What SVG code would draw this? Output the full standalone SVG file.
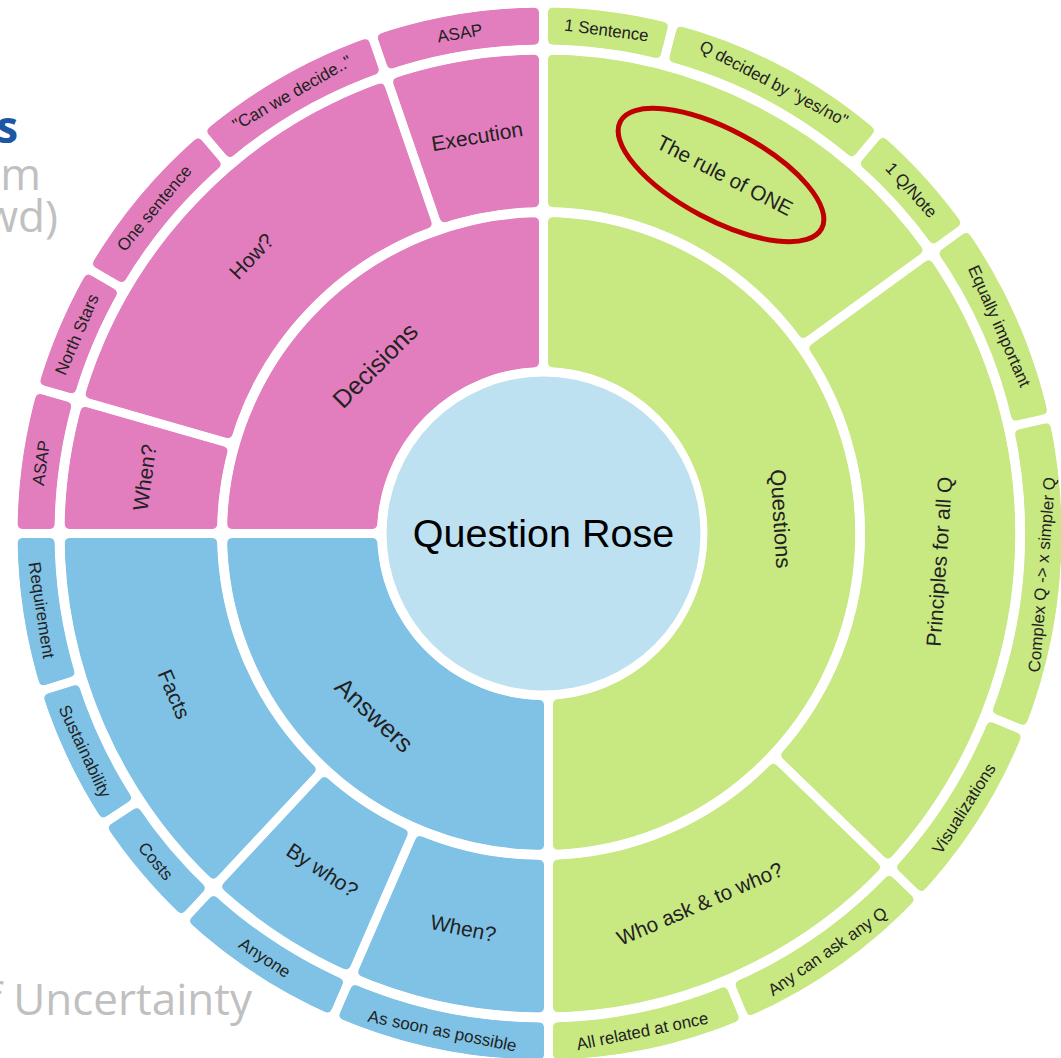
<svg xmlns="http://www.w3.org/2000/svg" width="1061" height="1058" viewBox="0 0 1061 1058">
<style>
.s1{fill:none;stroke-width:150px}
.s2{fill:none;stroke-width:152.5px}
.s3{fill:none;stroke-width:37px}
.pk{stroke:#E27EBE}
.gr{stroke:#C8E882}
.bl{stroke:#7FC2E6}
.lb{font-family:"Liberation Sans",Arial,Helvetica,sans-serif;fill:#222;text-anchor:middle}
.t0{font-size:39.5px;fill:#000}
.t1{font-size:25px}
.t2{font-size:21px}
.t3{font-size:17px}
.bg{font-family:"Open Sans","Noto Sans",sans-serif;font-size:44px;fill:#C0C0C0;text-anchor:end}
.sep{stroke:#000;stroke-width:9px}
</style>
<defs>
<path id="c1" d="M0,-241.5A241.5,241.5 0 1 1 0,241.5A241.5,241.5 0 1 1 0,-241.5" pathLength="360"/>
<path id="c2" d="M0,-402.75A402.75,402.75 0 1 1 0,402.75A402.75,402.75 0 1 1 0,-402.75" pathLength="360"/>
<path id="c3" d="M0,-507.5A507.5,507.5 0 1 1 0,507.5A507.5,507.5 0 1 1 0,-507.5" pathLength="360"/>
<filter id="rnd" filterUnits="userSpaceOnUse" x="-560" y="-560" width="1120" height="1120" color-interpolation-filters="sRGB">
<feGaussianBlur stdDeviation="2.8"/>
<feComponentTransfer><feFuncA type="linear" slope="8" intercept="-3.5"/></feComponentTransfer>
</filter>
<mask id="mL" maskUnits="userSpaceOnUse" x="-560" y="-560" width="1120" height="1120">
<rect x="-560" y="-560" width="1120" height="1120" fill="#fff"/>
<g class="sep">
<line x1="0" y1="-150" x2="0" y2="-540"/>
<line x1="-150" y1="0" x2="-540" y2="0"/>
<line y1="-320" y2="-540" transform="rotate(286)"/>
<line y1="-320" y2="-540" transform="rotate(341)"/>
<line y1="-320" y2="-540" transform="rotate(203.5)"/>
<line y1="-320" y2="-540" transform="rotate(223)"/>
<line y1="-483" y2="-540" transform="rotate(300.2)"/>
<line y1="-483" y2="-540" transform="rotate(319.5)"/>
<line y1="-483" y2="-540" transform="rotate(236.6)"/>
<line y1="-483" y2="-540" transform="rotate(252.6)"/>
</g>
<rect x="0.5" y="150" width="40" height="400" fill="#000"/>
</mask>
<mask id="mR" maskUnits="userSpaceOnUse" x="-560" y="-560" width="1120" height="1120">
<rect x="-560" y="-560" width="1120" height="1120" fill="#fff"/>
<g class="sep">
<line x1="0" y1="-150" x2="0" y2="-540"/>
<line y1="-320" y2="-540" transform="rotate(54.4)"/>
<line y1="-320" y2="-540" transform="rotate(133.6)"/>
<line y1="-483" y2="-540" transform="rotate(14.5)"/>
<line y1="-483" y2="-540" transform="rotate(40.4)"/>
<line y1="-483" y2="-540" transform="rotate(77.3)"/>
<line y1="-483" y2="-540" transform="rotate(112)"/>
<line y1="-483" y2="-540" transform="rotate(157.2)"/>
</g>
<rect x="-40" y="150" width="49.65" height="400" fill="#000"/>
</mask>
</defs>
<rect width="1061" height="1058" fill="#fff"/>
<g id="slide-fragments">
<text class="bg" x="18" y="143" style="fill:#1E56A6;font-weight:700">s</text>
<text class="bg" x="41" y="190">om</text>
<text class="bg" x="58" y="232">wd)</text>
<text class="bg" x="252" y="1015">f Uncertainty</text>
</g>
<g id="rose" transform="translate(543.5,533.5)">
<g id="node-root"><circle r="157" fill="#BEE1F2"/><text class="lb t0" dy=".35em">Question Rose</text></g>

<g id="node-decisions"><g filter="url(#rnd)"><use href="#c1" class="s1 pk" style="stroke-dasharray:90.4 360;stroke-dashoffset:-269.6" mask="url(#mL)"/></g><text class="lb t1" dy=".35em" transform="rotate(315) translate(0,-238)">Decisions</text></g>
<g id="node-answers"><g filter="url(#rnd)"><use href="#c1" class="s1 bl" style="stroke-dasharray:91.4 360;stroke-dashoffset:-179" mask="url(#mL)"/></g><text class="lb t1" dy=".35em" transform="rotate(223) translate(0,-248) rotate(180)">Answers</text></g>

<g id="node-when-d"><g filter="url(#rnd)"><use href="#c2" class="s2 pk" style="stroke-dasharray:16.4 360;stroke-dashoffset:-269.6" mask="url(#mL)"/></g><text class="lb t2" dy=".35em" transform="rotate(278) translate(0,-402.75)">When?</text></g>
<g id="node-how"><g filter="url(#rnd)"><use href="#c2" class="s2 pk" style="stroke-dasharray:55 360;stroke-dashoffset:-286" mask="url(#mL)"/></g><text class="lb t2" dy=".35em" transform="rotate(313.5) translate(0,-402.75)">How?</text></g>
<g id="node-execution"><g filter="url(#rnd)"><use href="#c2" class="s2 pk" style="stroke-dasharray:19 360;stroke-dashoffset:-341" mask="url(#mL)"/></g><text class="lb t2" dy=".35em" transform="rotate(350.5) translate(0,-402.75)">Execution</text></g>
<g id="node-when-a"><g filter="url(#rnd)"><use href="#c2" class="s2 bl" style="stroke-dasharray:24.5 360;stroke-dashoffset:-179" mask="url(#mL)"/></g><text class="lb t2" dy=".35em" transform="rotate(191.5) translate(0,-402.75) rotate(180)">When?</text></g>
<g id="node-bywho"><g filter="url(#rnd)"><use href="#c2" class="s2 bl" style="stroke-dasharray:19.5 360;stroke-dashoffset:-203.5" mask="url(#mL)"/></g><text class="lb t2" dy=".35em" transform="rotate(213.3) translate(0,-402.75) rotate(180)">By who?</text></g>
<g id="node-facts"><g filter="url(#rnd)"><use href="#c2" class="s2 bl" style="stroke-dasharray:47.4 360;stroke-dashoffset:-223" mask="url(#mL)"/></g><text class="lb t2" dy=".35em" transform="rotate(246.5) translate(0,-402.75) rotate(180)">Facts</text></g>

<g id="node-asap-l"><g filter="url(#rnd)"><use href="#c3" class="s3 pk" style="stroke-dasharray:16.4 360;stroke-dashoffset:-269.6" mask="url(#mL)"/></g><text class="lb t3" dy=".35em" transform="rotate(278) translate(0,-507.5)">ASAP</text></g>
<g id="node-northstars"><g filter="url(#rnd)"><use href="#c3" class="s3 pk" style="stroke-dasharray:14.2 360;stroke-dashoffset:-286" mask="url(#mL)"/></g><text class="lb t3" dy=".35em" transform="rotate(293.1) translate(0,-507.5)">North Stars</text></g>
<g id="node-onesentence"><g filter="url(#rnd)"><use href="#c3" class="s3 pk" style="stroke-dasharray:19.3 360;stroke-dashoffset:-300.2" mask="url(#mL)"/></g><text class="lb t3" dy=".35em" transform="rotate(309.9) translate(0,-507.5)">One sentence</text></g>
<g id="node-canwedecide"><g filter="url(#rnd)"><use href="#c3" class="s3 pk" style="stroke-dasharray:21.5 360;stroke-dashoffset:-319.5" mask="url(#mL)"/></g><text class="lb t3" dy=".35em" transform="rotate(330.3) translate(0,-507.5)">&quot;Can we decide..&quot;</text></g>
<g id="node-asap-t"><g filter="url(#rnd)"><use href="#c3" class="s3 pk" style="stroke-dasharray:19 360;stroke-dashoffset:-341" mask="url(#mL)"/></g><text class="lb t3" dy=".35em" transform="rotate(350.5) translate(0,-507.5)">ASAP</text></g>
<g id="node-asoonaspossible"><g filter="url(#rnd)"><use href="#c3" class="s3 bl" style="stroke-dasharray:24.5 360;stroke-dashoffset:-179" mask="url(#mL)"/></g><text class="lb t3" dy=".35em" transform="rotate(191.5) translate(0,-507.5) rotate(180)">As soon as possible</text></g>
<g id="node-anyone"><g filter="url(#rnd)"><use href="#c3" class="s3 bl" style="stroke-dasharray:19.5 360;stroke-dashoffset:-203.5" mask="url(#mL)"/></g><text class="lb t3" dy=".35em" transform="rotate(213.3) translate(0,-507.5) rotate(180)">Anyone</text></g>
<g id="node-costs"><g filter="url(#rnd)"><use href="#c3" class="s3 bl" style="stroke-dasharray:13.6 360;stroke-dashoffset:-223" mask="url(#mL)"/></g><text class="lb t3" dy=".35em" transform="rotate(229.8) translate(0,-507.5) rotate(180)">Costs</text></g>
<g id="node-sustainability"><g filter="url(#rnd)"><use href="#c3" class="s3 bl" style="stroke-dasharray:16 360;stroke-dashoffset:-236.6" mask="url(#mL)"/></g><text class="lb t3" dy=".35em" transform="rotate(244.6) translate(0,-507.5) rotate(180)">Sustainability</text></g>
<g id="node-requirement"><g filter="url(#rnd)"><use href="#c3" class="s3 bl" style="stroke-dasharray:17.8 360;stroke-dashoffset:-252.6" mask="url(#mL)"/></g><text class="lb t3" dy=".35em" transform="rotate(261.3) translate(0,-507.5) rotate(180)">Requirement</text></g>

<g id="branch-questions" transform="scale(0.985,1)">
<g id="node-questions"><g filter="url(#rnd)"><use href="#c1" class="s1 gr" style="stroke-dasharray:180.5 360;stroke-dashoffset:0" mask="url(#mR)"/></g><text class="lb t1" dy=".35em" style="font-size:22px" transform="rotate(86.5) translate(0,-241.5)">Questions</text></g>
<g id="node-ruleofone"><g filter="url(#rnd)"><use href="#c2" class="s2 gr" style="stroke-dasharray:54.4 360;stroke-dashoffset:0" mask="url(#mR)"/></g><text class="lb t2" dy=".35em" transform="rotate(27.2) translate(0,-402.75)">The rule of ONE</text></g>
<g id="node-principles"><g filter="url(#rnd)"><use href="#c2" class="s2 gr" style="stroke-dasharray:79.2 360;stroke-dashoffset:-54.4" mask="url(#mR)"/></g><text class="lb t2" dy=".35em" transform="rotate(94) translate(0,-402.75) rotate(180)">Principles for all Q</text></g>
<g id="node-whoask"><g filter="url(#rnd)"><use href="#c2" class="s2 gr" style="stroke-dasharray:46.9 360;stroke-dashoffset:-133.6" mask="url(#mR)"/></g><text class="lb t2" dy=".35em" transform="rotate(156.8) translate(0,-402.75) rotate(180)">Who ask &amp; to who?</text></g>
<g id="node-1sentence"><g filter="url(#rnd)"><use href="#c3" class="s3 gr" style="stroke-dasharray:14.5 360;stroke-dashoffset:0" mask="url(#mR)"/></g><text class="lb t3" dy=".35em" transform="rotate(7.25) translate(0,-507.5)">1 Sentence</text></g>
<g id="node-qdecided"><g filter="url(#rnd)"><use href="#c3" class="s3 gr" style="stroke-dasharray:25.9 360;stroke-dashoffset:-14.5" mask="url(#mR)"/></g><text class="lb t3" dy=".35em" transform="rotate(27.45) translate(0,-507.5)">Q decided by &quot;yes/no&quot;</text></g>
<g id="node-1qnote"><g filter="url(#rnd)"><use href="#c3" class="s3 gr" style="stroke-dasharray:14 360;stroke-dashoffset:-40.4" mask="url(#mR)"/></g><text class="lb t3" dy=".35em" transform="rotate(47.4) translate(0,-507.5)">1 Q/Note</text></g>
<g id="node-equally"><g filter="url(#rnd)"><use href="#c3" class="s3 gr" style="stroke-dasharray:22.9 360;stroke-dashoffset:-54.4" mask="url(#mR)"/></g><text class="lb t3" dy=".35em" transform="rotate(65.85) translate(0,-507.5)">Equally important</text></g>
<g id="node-complexq"><g filter="url(#rnd)"><use href="#c3" class="s3 gr" style="stroke-dasharray:34.7 360;stroke-dashoffset:-77.3" mask="url(#mR)"/></g><text class="lb t3" dy=".35em" transform="rotate(94.65) translate(0,-507.5) rotate(180)">Complex Q -&gt; x simpler Q</text></g>
<g id="node-visualizations"><g filter="url(#rnd)"><use href="#c3" class="s3 gr" style="stroke-dasharray:21.6 360;stroke-dashoffset:-112" mask="url(#mR)"/></g><text class="lb t3" dy=".35em" transform="rotate(122.8) translate(0,-507.5) rotate(180)">Visualizations</text></g>
<g id="node-anycanask"><g filter="url(#rnd)"><use href="#c3" class="s3 gr" style="stroke-dasharray:23.6 360;stroke-dashoffset:-133.6" mask="url(#mR)"/></g><text class="lb t3" dy=".35em" transform="rotate(145.4) translate(0,-507.5) rotate(180)">Any can ask any Q</text></g>
<g id="node-allrelated"><g filter="url(#rnd)"><use href="#c3" class="s3 gr" style="stroke-dasharray:23.3 360;stroke-dashoffset:-157.2" mask="url(#mR)"/></g><text class="lb t3" dy=".35em" transform="rotate(168.6) translate(0,-507.5) rotate(180)">All related at once</text></g>
</g>
</g>
<g id="connectors"/>
<g id="annotation"><ellipse cx="721" cy="175" rx="114" ry="45" transform="rotate(28 721 175)" fill="none" stroke="#C00000" stroke-width="5"/></g>
</svg>
